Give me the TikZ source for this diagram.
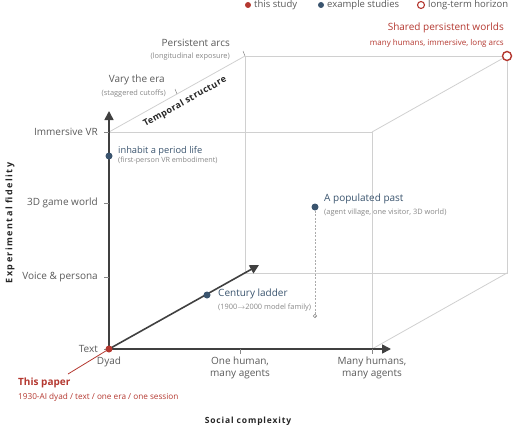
\documentclass[tikz,border=0pt]{standalone}
\usepackage{fontspec}
\setmainfont{Open Sans}
\newfontfamily\slightfont[LetterSpace=5]{Open Sans}
\newfontfamily\spacedfont[LetterSpace=10]{Open Sans}
\newfontfamily\widefont[LetterSpace=16]{Open Sans}
\usetikzlibrary{arrows.meta, positioning}
\definecolor{paperred}{RGB}{180,56,48}
\definecolor{studyblue}{RGB}{58,84,110}
\definecolor{gridgrey}{RGB}{208,208,208}
\definecolor{axisgrey}{RGB}{64,64,64}
\definecolor{labelgrey}{RGB}{90,90,90}
\definecolor{notegrey}{RGB}{135,135,135}

\tikzset{
  axis/.style={draw=axisgrey, line width=1.6pt, -{Triangle[length=9pt,width=9pt]}},
  edge/.style={draw=gridgrey, line width=0.8pt},
  tick/.style={draw=notegrey, line width=0.5pt},
  level/.style={font=\fontsize{10}{12}\selectfont, text=labelgrey, inner sep=1pt},
  note/.style={font=\fontsize{7.4}{9}\selectfont, text=notegrey, inner sep=1pt},
  study/.style={font=\fontsize{10}{12}\selectfont, text=studyblue, inner sep=1pt},
  title/.style={font=\fontsize{8.5}{10}\selectfont\spacedfont\bfseries, text=black!85, inner sep=1pt},
  dot/.style={circle, fill=#1, draw=none, minimum size=7pt, inner sep=0pt},
  ring/.style={circle, draw=paperred, fill=white, line width=1.4pt, minimum size=9pt, inner sep=0pt}
}

\begin{document}
\begin{tikzpicture}[x=1pt, y=-1pt]
    % fix the page to the reference size
    \useasboundingbox (0,0) rectangle (513,428);

    % corners of the box (front face and back face)
    \coordinate (O) at (109,349);
    \coordinate (frontTL) at (109,132);
    \coordinate (frontTR) at (372,132);
    \coordinate (frontBR) at (372,349);
    \coordinate (backTL) at (245,56);
    \coordinate (backTR) at (507,56);
    \coordinate (backBR) at (507,273);
    \coordinate (backBL) at (245,273);

    % light grey edges of the box
    \draw[edge] (frontTL) -- (frontTR) -- (frontBR);
    \draw[edge] (backBL) -- (backTL) -- (backTR) -- (backBR) -- cycle;
    \draw[edge] (frontTL) -- (backTL);
    \draw[edge] (frontTR) -- (backTR);
    \draw[edge] (frontBR) -- (backBR);

    % the three axes
    \coordinate (xend) at (391,349);
    \coordinate (yend) at (109,111);
    \coordinate (zend) at (259,265);
    \draw[axis] (O) -- (xend);
    \draw[axis] (O) -- (yend);
    \draw[axis] (O) -- (zend);

    % fidelity levels on the vertical axis
    \foreach \name/\yy/\txt in {text/349/Text, voice/277/Voice \& persona, game/203/3D game world, vr/132/Immersive VR} {
        \draw[tick] (104,\yy) -- (109,\yy);
        \node[level, anchor=east] (lv-\name) at (99,\yy) {\txt};
    }

    % social levels on the horizontal axis
    \draw[tick] (240,349) -- (240,354);
    \draw[tick] (372,349) -- (372,354);
    \node[level, anchor=north] (dyad) at (109,356) {Dyad};
    \node[level, anchor=north, align=center] (onehuman) at (240,356) {One human,\\many agents};
    \node[level, anchor=north, align=center] (manyhumans) at (372,356) {Many humans,\\many agents};

    % temporal levels along the upper diagonal edge
    \coordinate (vary) at (177,94);
    \draw[tick] (vary) -- ++(-2,-5);
    \draw[tick] (backTL) -- ++(-2,-5);
    \node[level, anchor=east] (varyera) at (166,80) {Vary the era};
    \node[note, anchor=east] (varynote) at (167,94) {(staggered cutoffs)};
    \node[level, anchor=east] (arcs) at (231,43) {Persistent arcs};
    \node[note, anchor=east] (arcsnote) at (231,57) {(longitudinal exposure)};
    \node[title, rotate=29.2, font=\fontsize{9}{10}\selectfont\slightfont\bfseries] (temporal) at (185,102) {Temporal structure};

    % axis titles
    \node[title, rotate=90, font=\fontsize{9}{10}\selectfont\widefont\bfseries] (fidelity) at (10,223) {Experimental fidelity};
    \node[title] (social) at (248,421) {Social complexity};

    % this paper, at the origin
    \coordinate (papertail) at (68,374);
    \draw[paperred, line width=0.8pt] (O) -- (papertail);
    \node[dot=paperred] (paper) at (O) {};
    \node[font=\fontsize{10}{12}\selectfont\bfseries, text=paperred, anchor=west, inner sep=1pt] (papertitle) at (17,383) {This paper};
    \node[font=\fontsize{8.2}{10}\selectfont, text=paperred, anchor=west, inner sep=1pt] (papernote) at (17,397) {1930-AI dyad / text / one era / one session};

    % example studies
    \node[dot=studyblue] (vrlife) at (109,156) {};
    \node[study, anchor=west, font=\fontsize{9.3}{11}\selectfont] (vrlifetitle) at (117,151) {inhabit a period life};
    \node[note, anchor=west, font=\fontsize{7.2}{9}\selectfont] (vrlifenote) at (117,161) {(first-person VR embodiment)};

    \node[dot=studyblue] (ladder) at (207,295) {};
    \node[study, anchor=west] (laddertitle) at (217,294) {Century ladder};
    \node[note, anchor=west] (laddernote) at (217,308) {(1900$\rightarrow$2000 model family)};

    \coordinate (villagefloor) at (315,316);
    \draw[notegrey!70, line width=0.5pt, dash pattern=on 2pt off 1.5pt] (315,207) -- (villagefloor);
    \draw[notegrey, line width=0.5pt] (villagefloor) circle (1.8);
    \node[dot=studyblue] (village) at (315,207) {};
    \node[study, anchor=west] (villagetitle) at (323,199) {A populated past};
    \node[note, anchor=west] (villagenote) at (323,213) {(agent village, one visitor, 3D world)};

    % long-term horizon
    \node[ring] (worlds) at (backTR) {};
    \node[font=\fontsize{10}{12}\selectfont, text=paperred, anchor=east, inner sep=1pt] (worldstitle) at (505,28) {Shared persistent worlds};
    \node[font=\fontsize{8}{10}\selectfont, text=paperred, anchor=east, inner sep=1pt] (worldsnote) at (505,43) {many humans, immersive, long arcs};

    % legend
    \node[dot=paperred, minimum size=6pt] (keypaper) at (248,5) {};
    \node[level, anchor=west, font=\fontsize{9.5}{10}\selectfont] (keypapertxt) at (253,5) {this study};
    \node[dot=studyblue, minimum size=6pt] (keystudy) at (321,5) {};
    \node[level, anchor=west, font=\fontsize{9.5}{10}\selectfont] (keystudytxt) at (326,5) {example studies};
    \node[ring, minimum size=7pt, line width=1.1pt] (keyworld) at (421,5) {};
    \node[level, anchor=west, font=\fontsize{9.5}{10}\selectfont] (keyworldtxt) at (427,5) {long-term horizon};
\end{tikzpicture}
\end{document}
